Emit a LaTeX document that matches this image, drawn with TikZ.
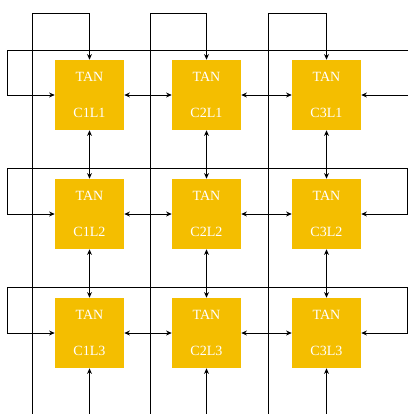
\documentclass[tikz,border=0pt]{standalone}
\usepackage{fontspec}
\setmainfont{Liberation Serif}
\usetikzlibrary{arrows.meta}

\definecolor{tanyellow}{RGB}{244,190,0}

\tikzset{
	tanbox/.style={rectangle, fill=tanyellow, text=white, align=center, inner sep=0pt,
		minimum width=1.725cm, minimum height=1.75cm, font=\fontsize{10}{11}\selectfont},
	link/.style={line width=0.6pt, black}
}

\begin{document}
\begin{tikzpicture}[x=0.025cm, y=-0.025cm, >={Stealth[length=4pt, width=3.5pt]}]
	% everything in pixels, y downwards
	\path[use as bounding box] (0, 0) rectangle (408, 414);
	
	%% TAN boxes
	% Line 1
	\node[tanbox] (C1L1) at (89.5, 95) {TAN\\[14pt]C1L1};
	\node[tanbox] (C2L1) at (206.5, 95) {TAN\\[14pt]C2L1};
	\node[tanbox] (C3L1) at (326.5, 95) {TAN\\[14pt]C3L1};
	
	% Line 2
	\node[tanbox] (C1L2) at (89.5, 214) {TAN\\[14pt]C1L2};
	\node[tanbox] (C2L2) at (206.5, 214) {TAN\\[14pt]C2L2};
	\node[tanbox] (C3L2) at (326.5, 214) {TAN\\[14pt]C3L2};
	
	% Line 3
	\node[tanbox] (C1L3) at (89.5, 333) {TAN\\[14pt]C1L3};
	\node[tanbox] (C2L3) at (206.5, 333) {TAN\\[14pt]C2L3};
	\node[tanbox] (C3L3) at (326.5, 333) {TAN\\[14pt]C3L3};
	
	%% loose ends at the border
	\coordinate (W1) at (32, 414);
	\coordinate (T1) at (32, 13);
	\coordinate (W2) at (150, 414);
	\coordinate (T2) at (150, 13);
	\coordinate (W3) at (268, 414);
	\coordinate (T3) at (268, 13);
	
	\coordinate (B1) at (89.5, 414);
	\coordinate (B2) at (206.5, 414);
	\coordinate (B3) at (326.5, 414);
	
	\coordinate (R1e) at (408, 50);
	\coordinate (R1w) at (7, 50);
	\coordinate (E1) at (408, 95);
	\coordinate (R2e) at (407, 168);
	\coordinate (R2w) at (7, 168);
	\coordinate (R3e) at (407, 287);
	\coordinate (R3w) at (7, 287);
	
	%% column wires (bottom to top, then down into line 1)
	\draw[link, ->] (W1) -- (T1) -| (C1L1);
	\draw[link, ->] (W2) -- (T2) -| (C2L1);
	\draw[link, ->] (W3) -- (T3) -| (C3L1);
	
	% inputs from below into line 3
	\draw[link, ->] (B1) -- (C1L3);
	\draw[link, ->] (B2) -- (C2L3);
	\draw[link, ->] (B3) -- (C3L3);
	
	%% line wires
	% Line 1
	\draw[link, ->] (R1e) -- (R1w) |- (C1L1);
	\draw[link, ->] (E1) -- (C3L1);
	
	% Line 2
	\draw[link, <->] (C3L2) -| (R2e) -- (R2w) |- (C1L2);
	
	% Line 3
	\draw[link, <->] (C3L3) -| (R3e) -- (R3w) |- (C1L3);
	
	%% neighbours, horizontal
	\draw[link, <->] (C1L1) -- (C2L1);
	\draw[link, <->] (C2L1) -- (C3L1);
	\draw[link, <->] (C1L2) -- (C2L2);
	\draw[link, <->] (C2L2) -- (C3L2);
	\draw[link, <->] (C1L3) -- (C2L3);
	\draw[link, <->] (C2L3) -- (C3L3);
	
	%% neighbours, vertical
	\draw[link, <->] (C1L1) -- (C1L2);
	\draw[link, <->] (C1L2) -- (C1L3);
	\draw[link, <->] (C2L1) -- (C2L2);
	\draw[link, <->] (C2L2) -- (C2L3);
	\draw[link, <->] (C3L1) -- (C3L2);
	\draw[link, <->] (C3L2) -- (C3L3);
	
\end{tikzpicture}
\end{document}
